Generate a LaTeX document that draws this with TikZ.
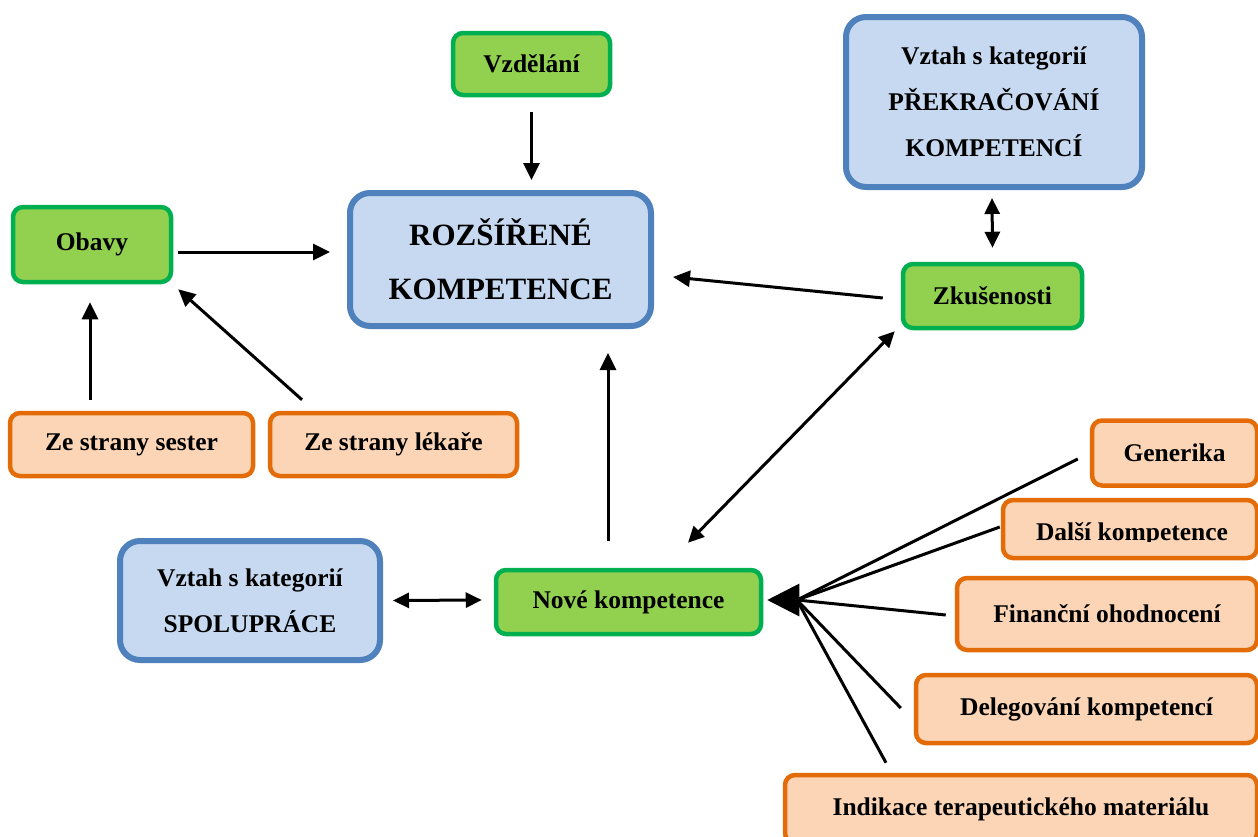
\documentclass[tikz,border=0pt]{standalone}
\usepackage{fontspec}
\setmainfont{Liberation Serif}
\usetikzlibrary{arrows.meta,calc}
\definecolor{gfill}{HTML}{92D050}
\definecolor{gline}{HTML}{00B050}
\definecolor{ofill}{HTML}{FBD5B5}
\definecolor{oline}{HTML}{E36C09}
\definecolor{bfill}{HTML}{C6D9F1}
\definecolor{bline}{HTML}{4F81BD}
\tikzset{
  box/.style={rectangle, rounded corners=10pt, inner sep=0pt, align=center,
    font=\fontsize{25.5}{46}\selectfont\bfseries},
  gbox/.style={box, fill=gfill, draw=gline, line width=4.5pt},
  obox/.style={box, fill=ofill, draw=oline, line width=4.5pt},
  bbox/.style={box, fill=bfill, draw=bline, line width=6pt, rounded corners=20pt},
  arr/.style={line width=3pt, -{Triangle[length=17pt,width=16pt]}},
  darr/.style={line width=3pt, {Triangle[length=16pt,width=15pt]}-{Triangle[length=16pt,width=15pt]}},
  fan/.style={line width=3pt},
  bigarr/.style={line width=3pt, -{Triangle[length=32pt,width=32pt]}},
}
\begin{document}
\begin{tikzpicture}[x=1pt,y=-1pt]
\clip (0,0) rectangle (1258,836);
\fill[white] (0,0) rectangle (1258,836);

\node[gbox, minimum width=157pt, minimum height=62pt] (vzd) at (531.5,64) {Vzdělání};
\node[bbox, minimum width=301pt, minimum height=133pt, font=\fontsize{31}{54}\selectfont\bfseries] (rozs) at (500.5,259.5) {ROZŠÍŘENÉ\\KOMPETENCE};
\node[bbox, minimum width=296pt, minimum height=170pt] (prek) at (994,102) {Vztah s kategorií\\PŘEKRAČOVÁNÍ\\KOMPETENCÍ};
\node[gbox, minimum width=179pt, minimum height=64pt] (zkus) at (992.5,296) {Zkušenosti};
\node[gbox, minimum width=158pt, minimum height=75pt] (obavy) at (92,244.5) {Obavy};
\node[obox, minimum width=243pt, minimum height=63pt] (sester) at (131.5,444.5) {Ze strany sester};
\node[obox, minimum width=247pt, minimum height=63pt] (lekare) at (393.5,444.5) {Ze strany lékaře};
\node[bbox, minimum width=260pt, minimum height=119pt] (spol) at (250,600.5) {Vztah s kategorií\\SPOLUPRÁCE};
\node[gbox, minimum width=265pt, minimum height=64pt] (nove) at (628.5,602) {Nové kompetence};

\node[obox, minimum width=165pt, minimum height=65pt] (gen) at (1174.5,453) {Generika};
\node[obox, minimum width=254pt, minimum height=58pt] (dalsi) at (1130,529) {};
\begin{scope}
  \clip (1003,500) rectangle (1257,541);
  \node[box, anchor=base] (dalsiT) at (1132,540) {Další kompetence};
\end{scope}
\node[obox, minimum width=300pt, minimum height=72pt] (fin) at (1107,614) {Finanční ohodnocení};
\node[obox, minimum width=341pt, minimum height=68pt] (deleg) at (1086.5,709) {Delegování kompetencí};
\node[obox, minimum width=472pt, minimum height=68pt] (indik) at (1021,809) {Indikace terapeutického materiálu};

% connectors
\draw[arr] ($(vzd.south)+(0,15)$) -- ($(vzd.south |- rozs.north)+(0,-10)$);
\draw[arr] ($(obavy.east)+(5,7.5)$) -- ($(rozs.west)+(-17,-7.5)$);
\draw[arr] ($(sester.north)+(-41.5,-11)$) -- ($(obavy.south)+(-2,18)$);
\draw[arr] ($(lekare.north)+(-91.5,-11)$) -- ($(obavy.south east)+(5,5)$);
\draw[arr] ($(zkus.west)+(-18,2)$) -- ($(rozs.east)+(19,17.5)$);
\draw[darr] ($(prek.south)+(-2,8)$) -- ($(zkus.north)+(0,-14)$);
\draw[darr] ($(spol.east)+(10,0)$) -- ($(nove.west)+(-12,-2)$);
\draw[arr] ($(nove.north)+(-20.5,-27)$) -- ($(rozs.south)+(107.5,24)$);
\draw[darr] ($(nove.north)+(59.5,-25)$) -- ($(zkus.south west)+(-6,1)$);

\coordinate (hub) at (797,600);
\draw[fan] ($(gen.west)+(-12,6)$) -- (hub);
\draw[fan] ($(dalsi.west)+(-1,-2)$) -- (hub);
\draw[fan] ($(fin.west)+(-9,1)$) -- (hub);
\draw[fan] ($(deleg.west)+(-13,-1)$) -- (hub);
\draw[fan] ($(indik.north)+(-135,-10)$) -- (hub);
\draw[bigarr] (hub) -- ($(nove.east)+(4,-2)$);
\end{tikzpicture}
\end{document}
